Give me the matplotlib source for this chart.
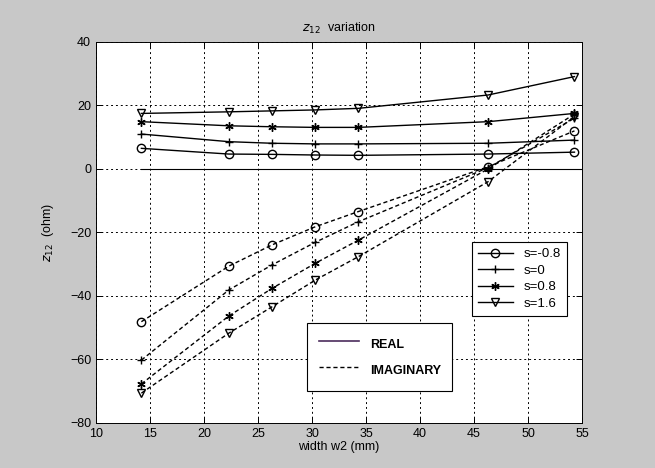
import matplotlib
matplotlib.use("Agg")
import matplotlib.pyplot as plt
from matplotlib.lines import Line2D

# widths w2 (mm) where z12 was evaluated
width = [14.2, 22.3, 26.3, 30.3, 34.3, 46.3, 54.3]

s_labels = ["s=-0.8", "s=0", "s=0.8", "s=1.6"]
# MATLAB-like markers: circle, plus, asterisk, triangle down
s_markers = ["o", "+", (6, 2, 0), "v"]

real_parts = [
    [6.5, 4.7, 4.6, 4.4, 4.3, 4.7, 5.3],
    [11.0, 8.6, 8.1, 7.9, 7.9, 8.1, 9.1],
    [14.9, 13.6, 13.3, 13.1, 13.1, 14.9, 17.5],
    [17.5, 18.0, 18.3, 18.6, 19.1, 23.3, 29.1],
]
imag_parts = [
    [-48.1, -30.6, -23.9, -18.2, -13.4, 0.7, 12.0],
    [-60.2, -38.1, -30.2, -23.1, -16.6, 0.4, 16.0],
    [-67.7, -46.3, -37.6, -29.7, -22.4, 0.0, 17.3],
    [-70.6, -51.7, -43.4, -35.0, -27.6, -4.0, 16.5],
]

plt.rcParams["font.family"] = ["Liberation Sans", "DejaVu Sans"]
plt.rcParams["mathtext.fontset"] = "dejavusans"

fig = plt.figure(figsize=(6.55, 4.68), dpi=100, facecolor="#c8c8c8")
ax = fig.add_axes([0.1466, 0.0962, 0.7420, 0.8141])
ax.set_facecolor("white")

# zero reference line
ax.plot([width[0], 55], [0, 0], color="black", lw=0.8)

for lab, mk, re, im in zip(s_labels, s_markers, real_parts, imag_parts):
    ax.plot(width, re, color="black", lw=1.0, marker=mk, ms=6,
            mfc="none", mec="black", mew=1.0)
    ax.plot(width, im, color="black", lw=1.0, ls=(0, (3, 2)), marker=mk,
            ms=6, mfc="none", mec="black", mew=1.0)

ax.set_xlim(10, 55)
ax.set_ylim(-80, 40)
ax.set_xticks(range(10, 56, 5))
ax.set_yticks(range(-80, 41, 20))
ax.grid(True, color="black", ls=(0, (2, 3)), lw=0.7)
ax.tick_params(direction="in", top=True, right=True, labelsize=9,
               length=4, width=0.7)
for sp in ax.spines.values():
    sp.set_linewidth(0.7)

ax.set_title(r"$z_{12}$  variation", fontsize=9, pad=7)
ax.set_xlabel("width w2 (mm)", fontsize=9, labelpad=1)
ax.set_ylabel(r"$z_{12}$  (ohm)", fontsize=9, labelpad=10)

handles1 = [Line2D([], [], color="black", lw=1.0, marker=mk, ms=6,
                   mfc="none", mec="black") for mk in s_markers]
leg1 = ax.legend(handles1, s_labels, loc="upper left",
                 bbox_to_anchor=(0.773, 0.476), fontsize=9.5,
                 fancybox=False, edgecolor="black", framealpha=1,
                 handlelength=2.6, borderpad=0.5, labelspacing=0.32,
                 borderaxespad=0)
leg1.get_frame().set_linewidth(0.8)
ax.add_artist(leg1)

handles2 = [Line2D([], [], color="#4b2c5c", lw=1.2),
            Line2D([], [], color="black", lw=1.0, ls=(0, (3, 2)))]
leg2 = ax.legend(handles2, ["REAL", "IMAGINARY"], loc="upper left",
                 bbox_to_anchor=(0.435, 0.262),
                 prop={"weight": "bold", "size": 9},
                 fancybox=False, edgecolor="black", framealpha=1,
                 handlelength=3.2, handleheight=2.1, borderpad=0.9,
                 labelspacing=0.4, handletextpad=0.9, borderaxespad=0)
leg2.get_frame().set_linewidth(0.8)

fig.savefig("out.png", dpi=100, facecolor=fig.get_facecolor())
